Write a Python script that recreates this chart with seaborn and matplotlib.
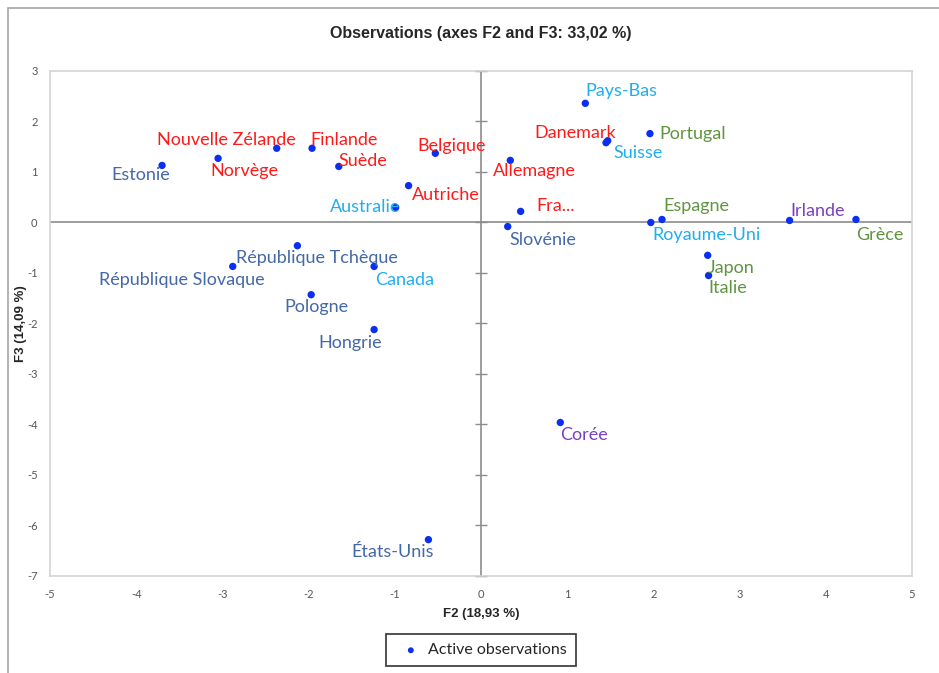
import pandas as pd
import matplotlib.pyplot as plt
import seaborn as sns
from matplotlib.patches import Rectangle

# PCA observation coordinates on F2 / F3
countries = ['Estonie', 'Norvège', 'Nouvelle Zélande', 'Finlande', 'Suède', 'Belgique',
             'Autriche', 'Australie', 'République Tchèque', 'République Slovaque', 'Canada',
             'Pologne', 'Hongrie', 'États-Unis', 'Corée', 'Pays-Bas', 'Danemark', 'Suisse',
             'Portugal', 'Allemagne', 'Fra...', 'Slovénie', 'Royaume-Uni', 'Espagne',
             'Irlande', 'Grèce', 'Japon', 'Italie']
f2 = [-3.70, -3.05, -2.37, -1.96, -1.65, -0.53, -0.84, -0.99, -2.13, -2.88, -1.24,
      -1.97, -1.24, -0.61, 0.92, 1.21, 1.45, 1.47, 1.96, 0.34, 0.46, 0.31, 1.97, 2.10,
      3.58, 4.35, 2.63, 2.64]
f3 = [1.13, 1.27, 1.47, 1.47, 1.11, 1.37, 0.73, 0.30, -0.46, -0.87, -0.87, -1.43,
      -2.12, -6.28, -3.96, 2.36, 1.58, 1.62, 1.76, 1.23, 0.22, -0.08, 0.00, 0.06,
      0.04, 0.06, -0.65, -1.05]
groups = ['blue', 'red', 'red', 'red', 'red', 'red', 'red', 'cyan', 'blue', 'blue', 'cyan',
          'blue', 'blue', 'blue', 'purple', 'cyan', 'red', 'cyan', 'green', 'red', 'red',
          'blue', 'cyan', 'green', 'purple', 'green', 'green', 'green']

group_colors = {'red': '#FF1A1A', 'cyan': '#1FAEEF', 'blue': '#4468A8',
                'green': '#609440', 'purple': '#7B3FC0'}

# label offsets in points (dx, dy) relative to each dot
offsets = [(-15, -7), (19, -9), (-36, 6), (23, 6), (17, 4), (12, 5),
           (27, -7), (-22, 0), (14, -9), (-37, -10), (22, -10),
           (4, -9), (-17, -10), (-26, -9), (17, -9), (26, 9), (-22, 7), (22, -9),
           (31, 0), (17, -8), (25, 4), (25, -10), (40, -9), (25, 10),
           (20, 7), (17, -11), (17, -9), (14, -9)]

df = pd.DataFrame({'Country': countries, 'F2': f2, 'F3': f3})

sns.set_style('white')
plt.rcParams['font.family'] = ['Lato', 'DejaVu Sans']
plt.rcParams['axes.unicode_minus'] = False

fig = plt.figure(figsize=(9.39, 6.73), dpi=100)
fig.patches.append(Rectangle((8 / 939, -0.05), 1.2, 1 - 8 / 673 + 0.05,
                             transform=fig.transFigure, fill=False,
                             edgecolor='#A6A6A6', linewidth=1.2))
ax = fig.add_axes([50 / 939, 1 - 576 / 673, 862 / 939, 505 / 673])

# axes through the origin
ax.axhline(0, color='#8C8C8C', lw=1.2, zorder=1)
ax.axvline(0, color='#8C8C8C', lw=1.2, zorder=1)

sns.scatterplot(data=df, x='F2', y='F3', ax=ax, color='#0A2FF0', s=28,
                edgecolor='none', label='Active observations', zorder=3)

for name, x, y, g, (dx, dy) in zip(countries, f2, f3, groups, offsets):
    ax.annotate(name, (x, y), xytext=(dx, dy), textcoords='offset points',
                ha='center', va='center', fontsize=13, color=group_colors[g])

ax.set_xlim(-5, 5)
ax.set_ylim(-7, 3)
ax.set_xticks(range(-5, 6))
ax.set_yticks(range(-7, 4))
ax.tick_params(length=0, labelsize=8, labelcolor='#555555', pad=9)
for sp in ax.spines.values():
    sp.set_color('#D4D4D4')
    sp.set_linewidth(1.2)

# crossing tick marks on the vertical zero axis
sec_y = ax.secondary_yaxis(0.5)
sec_y.set_yticks(range(-7, 4))
sec_y.set_yticklabels([])
sec_y.tick_params(direction='inout', length=8, color='#8C8C8C', width=1)
for sp in sec_y.spines.values():
    sp.set_visible(False)

ax.set_title('Observations (axes F2 and F3: 33,02 %)', fontsize=11.5, fontweight='bold',
             family='Liberation Sans', pad=24)
ax.set_xlabel('F2 (18,93 %)', fontsize=9.5, fontweight='bold', family='Liberation Sans',
              labelpad=6)
ax.set_ylabel('F3 (14,09 %)', fontsize=9.5, fontweight='bold', family='Liberation Sans')
ax.yaxis.set_label_coords(-0.027, 0.5)

leg = ax.legend(loc='upper center', bbox_to_anchor=(0.5, -0.1), frameon=True,
                fancybox=False, edgecolor='black', fontsize=11.5, handletextpad=0.1,
                markerscale=0.8, borderpad=0.55)
leg.get_frame().set_linewidth(1.2)

fig.savefig('out.png', dpi=100)
